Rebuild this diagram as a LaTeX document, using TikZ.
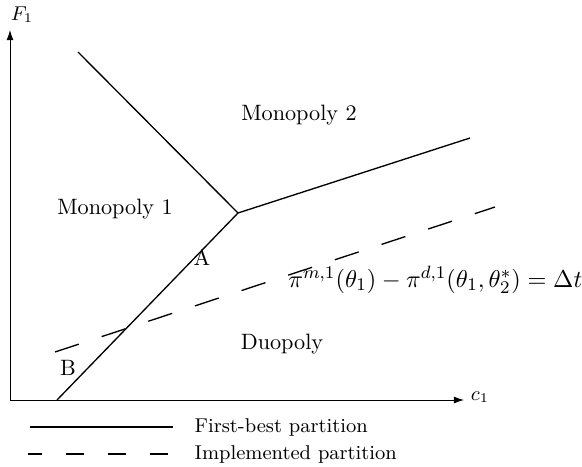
\documentclass[tikz,border=0pt]{standalone}
\usepackage{amsmath}
\usepackage{tikz}
\usetikzlibrary{arrows.meta,positioning}

\begin{document}
\begin{tikzpicture}[
  x=0.45pt, y=0.45pt,
  ax/.style={-{Latex[length=1.6mm,width=1.1mm]}, line width=0.4pt},
  fb/.style={line width=0.6pt},
  impl/.style={line width=0.6pt, dash pattern=on 11.3pt off 10.8pt},
  lbl/.style={inner sep=1pt, font=\normalsize},
  leg/.style={anchor=west, inner sep=1pt, font=\small}
]
  \useasboundingbox (0,0) rectangle (582,466);

  % axes
  \coordinate (orig) at (10,66);
  \coordinate (ytip) at (10,436);
  \coordinate (xtip) at (464,66);
  \draw[ax] (orig) -- (ytip);
  \draw[ax] (orig) -- (xtip);
  \node[lbl, font=\small] (flab) at (22,451) {$F_1$};
  \node[lbl, font=\small] (clab) at (480,69) {$c_1$};

  % first-best partition
  \coordinate (top) at (78,414);
  \coordinate (junc) at (238,253);
  \coordinate (right) at (470,328);
  \coordinate (bot) at (57,66);
  \draw[fb] (top) -- (junc) -- (right);
  \draw[fb] (junc) -- (bot);

  % implemented partition
  \coordinate (dstart) at (55,114);
  \coordinate (dend) at (495,259);
  \draw[impl] (dstart) -- (dend);

  % regions
  \node[lbl] (mono2) at (299,351) {Monopoly 2};
  \node[lbl] (mono1) at (115,257) {Monopoly 1};
  \node[lbl] (duo) at (282,122) {Duopoly};
  \node[lbl] (regA) at (202,208) {A};
  \node[lbl] (regB) at (68,98) {B};
  \node[lbl, anchor=east, font=\fontsize{10.8}{13}\selectfont] (eq) at (585,186) {$\pi^{m,1}(\theta_1)-\pi^{d,1}(\theta_1,\theta_2^*)=\Delta t$};

  % legend
  \coordinate (l1a) at (30,39);
  \coordinate (l1b) at (173,39);
  \coordinate (l2a) at (28,12);
  \coordinate (l2b) at (173,12);
  \draw[fb] (l1a) -- (l1b);
  \draw[line width=0.6pt, dash pattern=on 8.5pt off 10.4pt, dash phase=2pt] (l2a) -- (l2b);
  \node[leg] (leg1) at (192,39) {First-best partition};
  \node[leg] (leg2) at (192,12) {Implemented partition};
\end{tikzpicture}
\end{document}
